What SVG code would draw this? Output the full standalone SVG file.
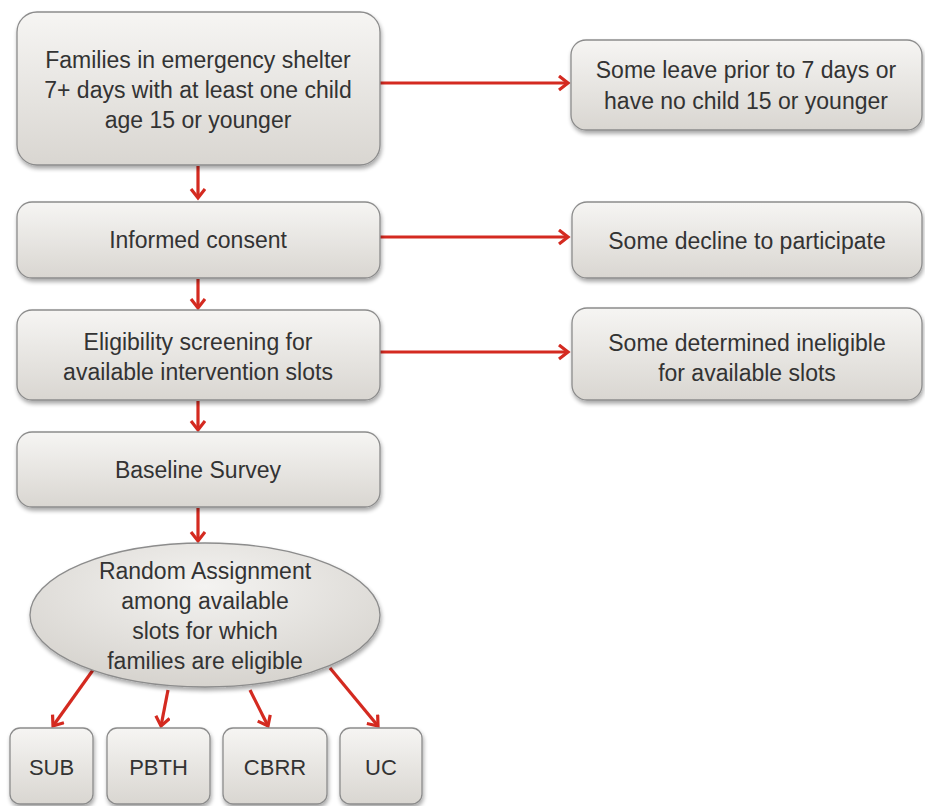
<svg xmlns="http://www.w3.org/2000/svg" width="925" height="806" viewBox="0 0 925 806">
<defs>
<linearGradient id="g" x1="0" y1="0" x2="0" y2="1">
<stop offset="0" stop-color="#f6f5f3"/>
<stop offset="1" stop-color="#d9d6d1"/>
</linearGradient>
<radialGradient id="ge" cx="0.5" cy="0.3" r="0.7">
<stop offset="0" stop-color="#f4f3f1"/>
<stop offset="1" stop-color="#d6d3ce"/>
</radialGradient>
<filter id="sh" x="-10%" y="-10%" width="120%" height="130%">
<feGaussianBlur in="SourceAlpha" stdDeviation="2"/>
<feOffset dx="1" dy="3" result="b"/>
<feComponentTransfer><feFuncA type="linear" slope="0.35"/></feComponentTransfer>
<feMerge><feMergeNode/><feMergeNode in="SourceGraphic"/></feMerge>
</filter>
<marker id="ah" markerUnits="userSpaceOnUse" markerWidth="20" markerHeight="20" refX="11" refY="8" orient="auto">
<path d="M2,1 L11,8 L2,15" fill="none" stroke="#d42a20" stroke-width="3.2" stroke-linejoin="miter"/>
</marker>
</defs>
<style>
.box{fill:url(#g);stroke:#8c8c8c;stroke-width:1.3;filter:url(#sh)}
.ell{fill:url(#ge);stroke:#8c8c8c;stroke-width:1.3;filter:url(#sh)}
text{font-family:"Liberation Sans",Arial,sans-serif;font-size:23px;fill:#333333;text-anchor:middle}
.sm{font-size:22px}
.c line{stroke:#d42a20;stroke-width:3.2;marker-end:url(#ah)}
</style>
<rect width="925" height="806" fill="#ffffff"/>
<g class="c" id="connectors">
<line x1="380" y1="83" x2="568" y2="83"/>
<line x1="380" y1="237" x2="568" y2="237"/>
<line x1="380" y1="352" x2="568" y2="352"/>
<line x1="198" y1="166" x2="198" y2="198"/>
<line x1="198" y1="279" x2="198" y2="308"/>
<line x1="198" y1="401" x2="198" y2="430"/>
<line x1="198" y1="508" x2="198" y2="541"/>
<line x1="93" y1="670" x2="53" y2="726"/>
<line x1="168" y1="690" x2="161" y2="726"/>
<line x1="250" y1="690" x2="268" y2="726"/>
<line x1="330" y1="668" x2="378" y2="726"/>
</g>
<g id="n1"><rect class="box" x="17" y="12" width="363" height="153" rx="20"/>
<text x="198" y="68">Families in emergency shelter</text>
<text x="198" y="98">7+ days with at least one child</text>
<text x="198" y="128">age 15 or younger</text></g>
<g id="r1"><rect class="box" x="571" y="40" width="351" height="90" rx="15"/>
<text x="746" y="78">Some leave prior to 7 days or</text>
<text x="746" y="109">have no child 15 or younger</text></g>
<g id="n2"><rect class="box" x="17" y="202" width="363" height="76" rx="15"/>
<text x="198" y="248">Informed consent</text></g>
<g id="r2"><rect class="box" x="572" y="202" width="350" height="76" rx="15"/>
<text x="747" y="249">Some decline to participate</text></g>
<g id="n3"><rect class="box" x="17" y="310" width="363" height="90" rx="15"/>
<text x="198" y="350">Eligibility screening for</text>
<text x="198" y="380">available intervention slots</text></g>
<g id="r3"><rect class="box" x="572" y="308" width="350" height="92" rx="15"/>
<text x="747" y="351">Some determined ineligible</text>
<text x="747" y="381">for available slots</text></g>
<g id="n4"><rect class="box" x="17" y="432" width="363" height="75" rx="15"/>
<text x="198" y="478">Baseline Survey</text></g>
<g id="n5"><ellipse class="ell" cx="205" cy="615" rx="175" ry="72"/>
<text x="205" y="579">Random Assignment</text>
<text x="205" y="609">among available</text>
<text x="205" y="639">slots for which</text>
<text x="205" y="669">families are eligible</text></g>
<g id="sub"><rect class="box" x="10" y="728" width="83" height="76" rx="10"/>
<text class="sm" x="51.5" y="775">SUB</text></g>
<g id="pbth"><rect class="box" x="107" y="728" width="103" height="76" rx="10"/>
<text class="sm" x="158.5" y="775">PBTH</text></g>
<g id="cbrr"><rect class="box" x="223" y="728" width="104" height="76" rx="10"/>
<text class="sm" x="275" y="775">CBRR</text></g>
<g id="uc"><rect class="box" x="340" y="728" width="82" height="76" rx="10"/>
<text class="sm" x="381" y="775">UC</text></g>
</svg>
